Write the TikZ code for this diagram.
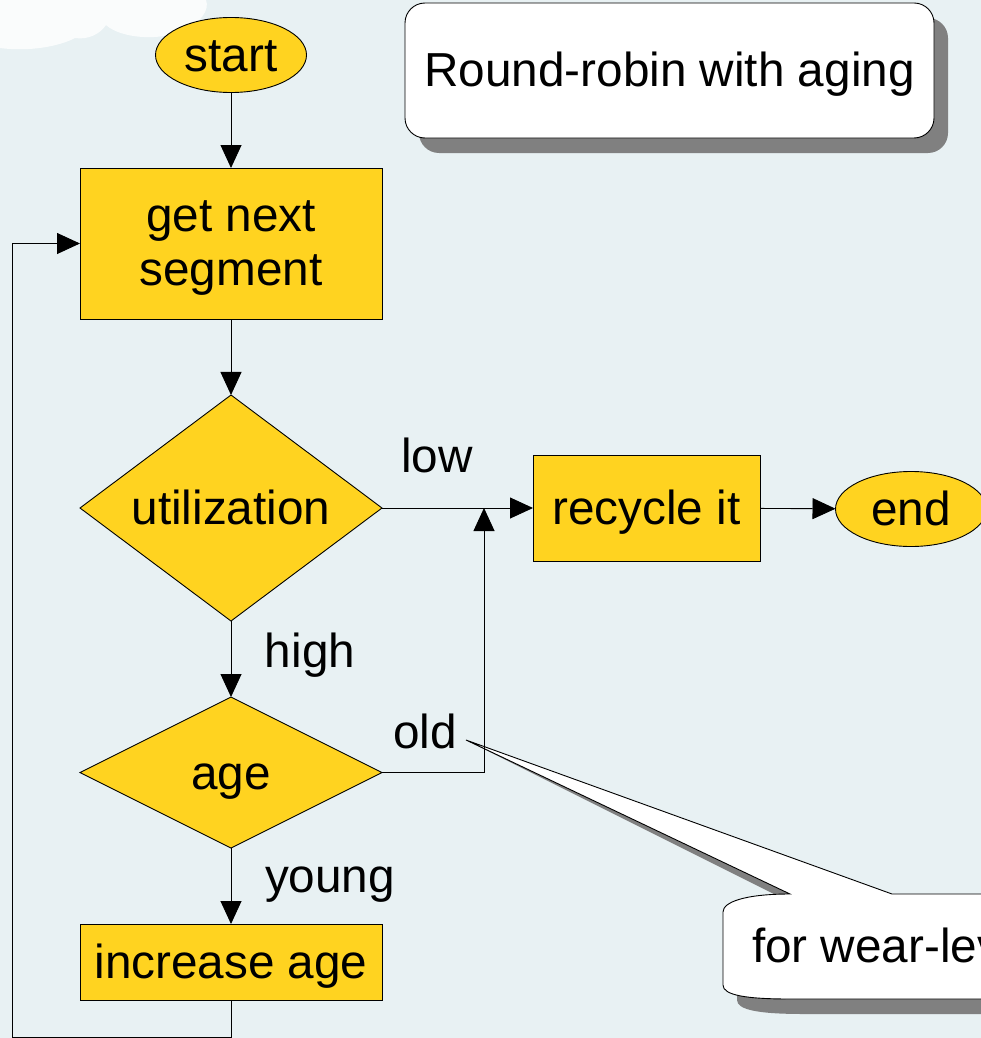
\documentclass[tikz,border=0pt]{standalone}
\usepackage{fontspec}
\setmainfont{Liberation Sans}
\usetikzlibrary{shapes.geometric,arrows.meta,shadows}
\definecolor{bgblue}{HTML}{E8F1F3}
\definecolor{flowyellow}{HTML}{FFD320}
\definecolor{shadowgray}{HTML}{808080}

% outline of the speech-bubble note, pointer included
\def\wearcallout{(790,894) -- (tip) -- (892,894) -- (1000,894) -- (1000,999) -- (790,999)
  .. controls (745,999) and (723,995) .. (723,985) -- (723,912)
  .. controls (723,902) and (745,894) .. (790,894) -- cycle}

\begin{document}
\begin{tikzpicture}[x=1pt,y=-1pt,
  every node/.style={font=\fontsize{47.7pt}{54pt}\selectfont, inner sep=0pt, outer sep=0pt},
  flow/.style={draw=black, line width=0.9pt, fill=flowyellow},
  oneline/.style={text height=33pt, text depth=0pt},
  terminal/.style={flow, ellipse, minimum width=151pt, minimum height=75pt, oneline},
  process/.style={flow, rectangle},
  decision/.style={flow, diamond, oneline},
  conn/.style={line width=0.9pt, -{Triangle[length=23pt,width=21pt]}},
  tag/.style={anchor=base}
]
\useasboundingbox (0,0) rectangle (981,1038);
\clip (0,0) rectangle (981,1038);

% backdrop with a soft cloud in the corner
\fill[bgblue] (0,0) rectangle (981,1038);
\fill[white, opacity=0.8] (0,0) -- (0,48)
  .. controls (30,52) and (60,46) .. (75,38)
  .. controls (88,40) and (100,34) .. (106,25)
  .. controls (120,38) and (160,42) .. (182,30)
  .. controls (200,24) and (210,10) .. (206,0) -- cycle;

% title
\node[draw=black, fill=white, line width=0.9pt, rounded corners=20pt,
      minimum width=529pt, minimum height=135pt, oneline,
      drop shadow={shadow xshift=14pt, shadow yshift=-15pt, fill=shadowgray, opacity=1}]
      (title) at (669.5,70.5) {Round-robin with aging};

% note attached to the "old" branch
\coordinate (tip) at (466,740);
\fill[shadowgray, shift={(14,15)}] \wearcallout;
\filldraw[fill=white, draw=black, line width=0.9pt] \wearcallout;
\node[anchor=base west] (wear) at (752,962) {for wear-leveling};

% flowchart
\node[terminal] (start) at (231,55) {start};
\node[process, minimum width=302pt, minimum height=151pt, align=center, text depth=0pt]
      (getnext) at (231,243.5) {get next\\segment};
\node[decision, minimum width=302pt, minimum height=226pt, aspect=1.34]
      (util) at (231,508) {utilization};
\node[process, oneline, minimum width=227pt, minimum height=106pt]
      (recycle) at (646.5,508) {recycle it};
\node[terminal] (end) at (911,509) {end};
\node[decision, minimum width=302pt, minimum height=151pt, aspect=2]
      (age) at (231,772.5) {age};
\node[process, oneline, minimum width=302pt, minimum height=76pt]
      (incr) at (231,962) {increase age};

% branch labels
\node[tag] (low) at (437,472) {low};
\node[tag] (high) at (310,667) {high};
\node[tag] (old) at (425,748) {old};
\node[tag] (young) at (330,892) {young};

% connectors
\draw[conn] (start) -- (getnext);
\draw[conn] (getnext) -- (util);
\draw[conn] (util) -- (age);
\draw[conn] (age) -- (incr);
\draw[conn] (util) -- (recycle);
\draw[conn] (recycle) -- (end);
\coordinate (merge) at (484,508);
\draw[conn] (age.east) -| (merge);
\coordinate (loopbottom) at (12,1037);
\coordinate (looptop) at (12,243.5);
\draw[conn] (incr.south) |- (loopbottom) -- (looptop) -- (getnext.west);
\end{tikzpicture}
\end{document}
